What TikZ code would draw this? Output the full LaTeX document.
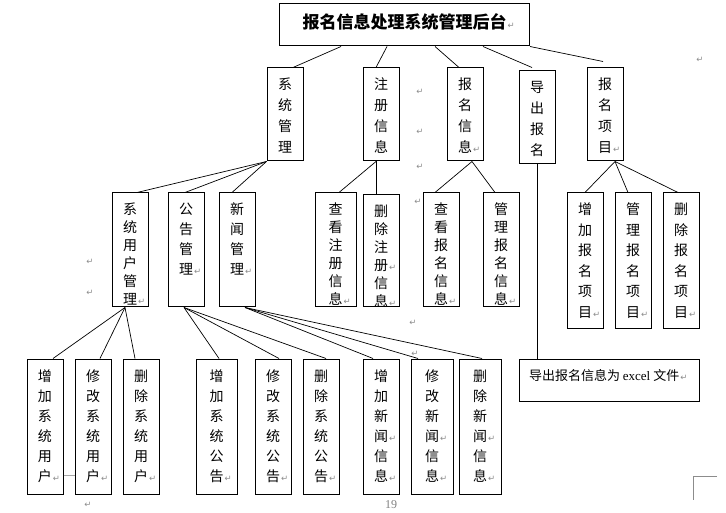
\documentclass[tikz,border=0pt]{standalone}
\usepackage{fontspec}
\setmainfont{Liberation Serif}
\newfontfamily\cjk{Noto Sans CJK SC}
\newfontfamily\sym{DejaVu Sans}
\usepackage{xcolor}

\newcommand{\rt}{\rlap{\kern1pt\textcolor{black!45}{\sym\mdseries\fontsize{8.5}{8.5}\selectfont ↵}}}
\newcommand{\vtxt}[3]{\parbox[c][#2pt][t]{#1pt}{\centering\rule{0pt}{22pt}#3}}

\begin{document}
\begin{tikzpicture}[x=1pt,y=-1pt,
    box/.style={draw, line width=1pt, inner sep=0pt, font=\cjk\fontsize{14}{20}\selectfont},
    link/.style={line width=0.7pt},
    retmark/.style={inner sep=0pt, text=black!45, font=\sym\fontsize{8.5}{8.5}\selectfont}]
  \useasboundingbox (0,0) rectangle (726,513);

  % top level
  \node[box, minimum width=250pt, minimum height=42pt, text height=13pt, text depth=6pt,
        font=\cjk\bfseries\fontsize{17}{20}\selectfont] (root) at (404.5,25) {报名信息处理系统管理后台\rt};

  % second level
  \node[box, font=\cjk\fontsize{14}{21}\selectfont] (sys) at (285,114.5) {\vtxt{36}{93}{系\\统\\管\\理}};
  \node[box, font=\cjk\fontsize{14}{21}\selectfont] (reg) at (381,114.5) {\vtxt{36}{93}{注\\册\\信\\息}};
  \node[box, font=\cjk\fontsize{14}{21}\selectfont] (sign) at (465,114.5) {\vtxt{36}{93}{报\\名\\信\\息\rt}};
  \node[box, font=\cjk\fontsize{14}{21}\selectfont] (exp) at (537,117.5) {\vtxt{36}{93}{导\\出\\报\\名}};
  \node[box, font=\cjk\fontsize{14}{21}\selectfont] (proj) at (605,114.5) {\vtxt{36}{93}{报\\名\\项\\目\rt}};

  \draw[link] ([xshift=-63.5pt]root.south) -- ([xshift=8pt]sys.north);
  \draw[link] ([xshift=-17.5pt]root.south) -- ([xshift=-5pt]reg.north);
  \draw[link] ([xshift=30.5pt]root.south) -- ([xshift=-6pt]sign.north);
  \draw[link] ([xshift=78.5pt]root.south) -- ([xshift=-5pt,yshift=3pt]exp.north);
  \draw[link] (root.south east) -- ([xshift=-2pt,yshift=6pt]proj.north);

  % third level
  \node[box, font=\cjk\fontsize{14}{18}\selectfont] (usr) at (130,250) {\vtxt{36}{114}{系\\统\\用\\户\\管\\理\rt}};
  \node[box] (notice) at (186,250) {\vtxt{36}{114}{公\\告\\管\\理\rt}};
  \node[box] (news) at (237,250) {\vtxt{36}{114}{新\\闻\\管\\理\rt}};
  \node[box, font=\cjk\fontsize{14}{18}\selectfont] (chkreg) at (335.5,250) {\vtxt{41}{114}{查\\看\\注\\册\\信\\息\rt}};
  \node[box, font=\cjk\fontsize{14}{18}\selectfont] (delreg) at (381,251) {\vtxt{36}{112}{删\\除\\注\\册\rt\\信\\息\rt}};
  \node[box, font=\cjk\fontsize{14}{18}\selectfont] (chksign) at (441,250) {\vtxt{36}{114}{查\\看\\报\\名\\信\\息\rt}};
  \node[box, font=\cjk\fontsize{14}{18}\selectfont] (mgsign) at (501,250) {\vtxt{36}{114}{管\\理\\报\\名\\信\\息\rt}};
  \node[box, font=\cjk\fontsize{14}{20.5}\selectfont] (addproj) at (585,260.5) {\vtxt{36}{135}{增\\加\\报\\名\\项\\目\rt}};
  \node[box, font=\cjk\fontsize{14}{20.5}\selectfont] (mgproj) at (633,260.5) {\vtxt{36}{135}{管\\理\\报\\名\\项\\目\rt}};
  \node[box, font=\cjk\fontsize{14}{20.5}\selectfont] (delproj) at (681,260.5) {\vtxt{36}{135}{删\\除\\报\\名\\项\\目\rt}};
  \node[box, font=\cjk\fontsize{13}{20}\selectfont] (xls) at (609,380) {\parbox[c][42pt][t]{180pt}{\raggedright\hspace*{10pt}\rule{0pt}{21pt}导出报名信息为 {\rmfamily excel} 文件\rt}};

  \draw[link] (sys.south west) -- ([xshift=7pt]usr.north);
  \draw[link] (sys.south west) -- ([xshift=-1pt]notice.north);
  \draw[link] (sys.south west) -- ([xshift=-5pt]news.north);
  \draw[link] ([xshift=-5pt]reg.south) -- ([xshift=3.5pt]chkreg.north);
  \draw[link] ([xshift=-5pt]reg.south) -- ([xshift=-5pt]delreg.north);
  \draw[link] ([xshift=7pt]sign.south) -- ([xshift=-6pt]chksign.north);
  \draw[link] ([xshift=7pt]sign.south) -- ([xshift=-6pt]mgsign.north);
  \draw[link] (exp.south) -- (exp.south |- xls.north);
  \draw[link] ([xshift=10pt]proj.south) -- (addproj.north);
  \draw[link] ([xshift=10pt]proj.south) -- ([xshift=-5pt]mgproj.north);
  \draw[link] ([xshift=10pt]proj.south) -- ([xshift=-3pt]delproj.north);

  % fourth level
  \node[box] (addusr) at (45,426.5) {\vtxt{36}{135}{增\\加\\系\\统\\用\\户\rt}};
  \node[box] (modusr) at (93,426.5) {\vtxt{36}{135}{修\\改\\系\\统\\用\\户\rt}};
  \node[box] (delusr) at (141,426.5) {\vtxt{36}{135}{删\\除\\系\\统\\用\\户\rt}};
  \node[box] (addnt) at (216.5,426.5) {\vtxt{41}{135}{增\\加\\系\\统\\公\\告\rt}};
  \node[box] (modnt) at (273,426.5) {\vtxt{36}{135}{修\\改\\系\\统\\公\\告\rt}};
  \node[box] (delnt) at (321,426.5) {\vtxt{36}{135}{删\\除\\系\\统\\公\\告\rt}};
  \node[box] (addnews) at (381,426.5) {\vtxt{36}{135}{增\\加\\新\\闻\rt\\信\\息\rt}};
  \node[box] (modnews) at (432,426.5) {\vtxt{42}{135}{修\\改\\新\\闻\rt\\信\\息\rt}};
  \node[box] (delnews) at (480,426.5) {\vtxt{42}{135}{删\\除\\新\\闻\rt\\信\\息\rt}};

  \draw[link] ([xshift=-5pt]usr.south) -- ([xshift=8pt]addusr.north);
  \draw[link] ([xshift=-5pt]usr.south) -- ([xshift=7pt]modusr.north);
  \draw[link] ([xshift=-5pt]usr.south) -- ([xshift=-6pt]delusr.north);
  \draw[link] ([xshift=-2pt]notice.south) -- ([xshift=2.5pt]addnt.north);
  \draw[link] ([xshift=-2pt]notice.south) -- ([xshift=6pt]modnt.north);
  \draw[link] ([xshift=-2pt]notice.south) -- ([xshift=5pt]delnt.north);
  \draw[link] ([xshift=8pt]news.south) -- ([xshift=-8pt]addnews.north);
  \draw[link] ([xshift=8pt]news.south) -- ([xshift=-14pt]modnews.north);
  \draw[link] ([xshift=8pt]news.south) -- ([xshift=2pt]delnews.north);
  \draw[black!35] (addusr.east |- 0,475) -- (modusr.west |- 0,475);

  % page marks
  \foreach \x/\y [count=\i] in {700/60, 420/92, 420/132, 420/167, 90/262, 90/293, 418/202, 413/323, 415/354, 88/505}
    \node[retmark] (rm\i) at (\x,\y) {↵};
  \node[text=black!50, font=\fontsize{12}{12}\selectfont] (pgnum) at (391,505) {19};
  \draw[black!45, line width=0.7pt] (717,476) -- (693,476) -- (693,500);
\end{tikzpicture}
\end{document}
